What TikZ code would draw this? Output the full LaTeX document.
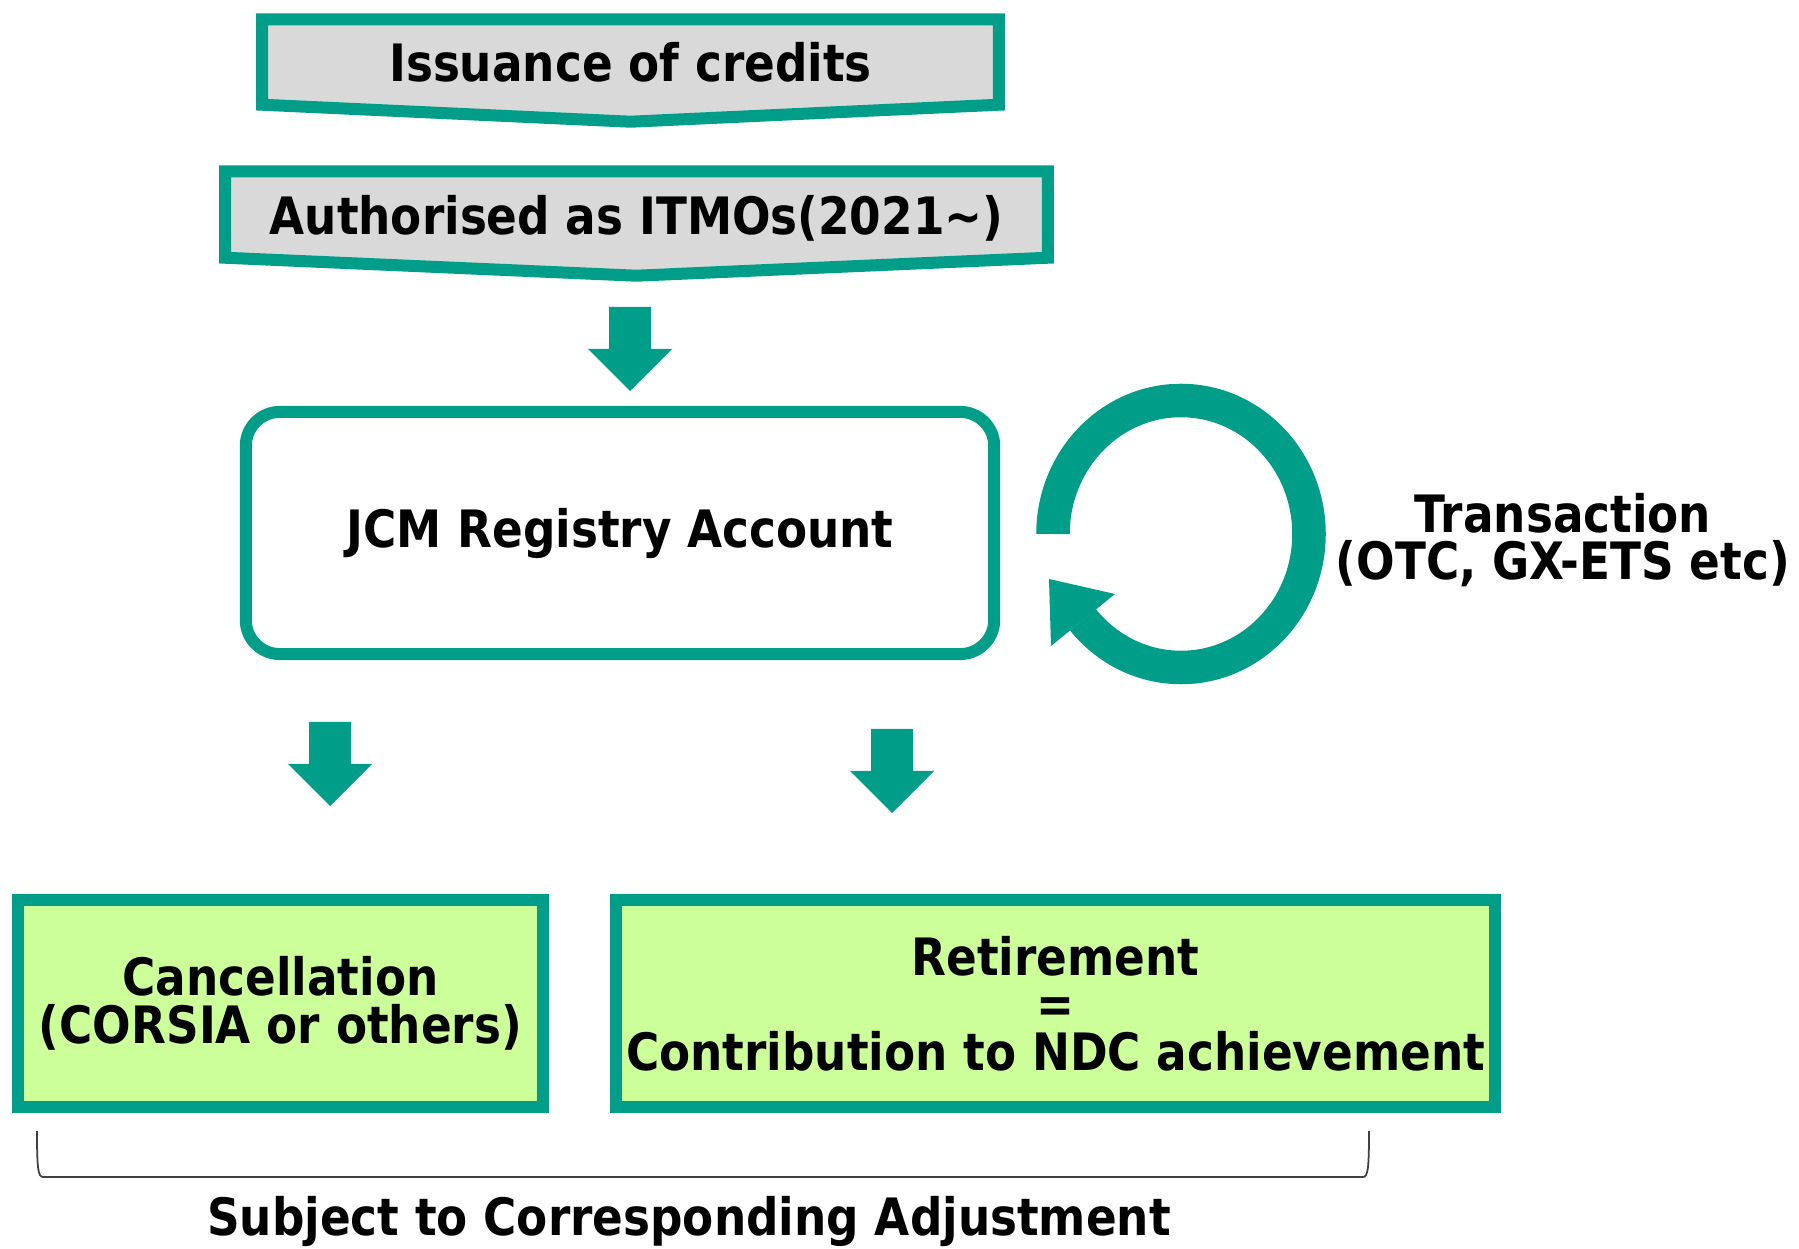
\documentclass[tikz,border=0pt]{standalone}
\usepackage{fontspec}
\usepackage{tikz}
\usetikzlibrary{calc, backgrounds}

\newfontfamily\jcmfont{DejaVu Sans}[FakeStretch=0.88]
\definecolor{jcmteal}{RGB}{0,157,137}
\definecolor{bannergray}{RGB}{217,217,217}
\definecolor{boxgreen}{RGB}{204,255,153}

\tikzset{
    blockdown/.pic={\fill[jcmteal] (-21,0) -- (21,0) -- (21,42) -- (42,42) -- (0,84) -- (-42,42) -- (-21,42) -- cycle;}
}

\begin{document}
\begin{tikzpicture}[
    x=0.01cm, y=-0.01cm,
    every node/.style={font=\jcmfont\bfseries\fontsize{14.65}{13.5}\selectfont, inner sep=2pt},
    banner/.style={minimum height=0.84cm, align=center},
    bannerframe/.style={draw=jcmteal, fill=bannergray, line width=0.12cm},
    frame/.style={draw=jcmteal, line width=0.12cm, minimum height=2.07cm, align=center},
    loop/.style={draw=jcmteal, line width=0.335cm},
    bracket/.style={draw=black!75, line width=0.5pt}
]
\useasboundingbox (0,0) rectangle (1799,1249);

\node[banner, minimum width=7.35cm] (issue) at (630.5,62) {Issuance of credits};
\node[banner, minimum width=8.21cm, minimum height=0.85cm, text depth=0pt] (auth) at (636.5,214.5) {Authorised as ITMOs(2021\textasciitilde)};

\begin{scope}[on background layer]
\foreach \b/\tip in {issue/17, auth/18}
    \draw[bannerframe] (\b.north west) -- (\b.north east) -- (\b.south east) -- ($(\b.south)+(0,\tip)$) -- (\b.south west) -- cycle;
\end{scope}

\node[frame, fill=white, rounded corners=0.34cm, minimum width=7.48cm, minimum height=2.42cm] (jcm) at (620,533) {JCM Registry Account};

\node[frame, fill=boxgreen, minimum width=5.25cm] (cancel) at (280.5,1003.5) {Cancellation\\(CORSIA or others)};
\node[frame, fill=boxgreen, minimum width=8.79cm] (retire) at (1055.5,1003.5) {Retirement\\=\\Contribution to NDC achievement};

% block arrows
\foreach \x/\y in {630/307, 330/722, 892/729}
    \pic at (\x,\y) {blockdown};

% transaction loop
\draw[loop] (1053,534) arc[start angle=180, end angle=500, x radius=128, y radius=133.5];
\fill[jcmteal] (1049,579) -- (1115,594) -- (1051,646) -- cycle;
\node[align=center] (trans) at (1563,540) {Transaction\\(OTC, GX-ETS etc)};

\draw[bracket] (37,1131) .. controls (37,1168) and (38,1177) .. (43,1177) -- (1363,1177) .. controls (1368,1177) and (1369,1168) .. (1369,1131);
\node[anchor=base] (subj) at (689,1235) {Subject to Corresponding Adjustment};

\end{tikzpicture}
\end{document}
